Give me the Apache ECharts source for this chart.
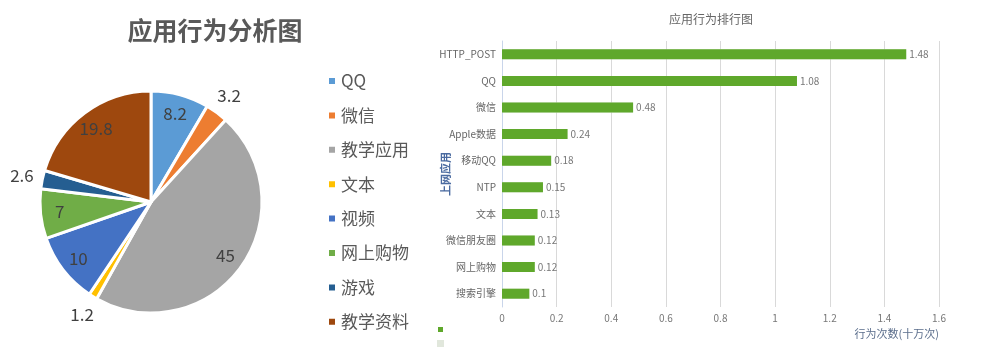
<!DOCTYPE html>
<html><head><meta charset="utf-8">
<script src="https://cdn.jsdelivr.net/npm/echarts@6/dist/echarts.min.js"></script>
<style>html,body{margin:0;padding:0;background:#fff}#c{width:982px;height:361px}</style>
</head><body><div id="c"></div>
<script>
var pieNames = ['QQ','微信','教学应用','文本','视频','网上购物','游戏','教学资料'];
var pieValues = [8.2,3.2,45,1.2,10,7,2.6,19.8];
var pieInsideLabel = [true,false,true,false,true,true,false,true];
var barCats = ['HTTP_POST','QQ','微信','Apple数据','移动QQ','NTP','文本','微信朋友圈','网上购物','搜索引擎'];
var barValues = [1.48,1.08,0.48,0.24,0.18,0.15,0.13,0.12,0.12,0.1];
var xTicks = [0,0.2,0.4,0.6,0.8,1,1.2,1.4,1.6];

var pieColors = ['#5B9BD5','#ED7D31','#A5A5A5','#FFC000','#4472C4','#70AD47','#255E91','#9E480E'];
var FONT = '"Noto Sans CJK SC","Microsoft YaHei",sans-serif';
var C = [151, 202], R = 111;

function pieData(mode){
  return pieNames.map(function(n,i){
    var d = {name:n, value:pieValues[i], itemStyle:{color:pieColors[i]}};
    if(mode==='in') d.label = {show: pieInsideLabel[i]};
    if(mode==='out') d.label = {show: !pieInsideLabel[i]};
    if(mode!=='main') d.itemStyle = {color:'rgba(0,0,0,0)'};
    return d;
  });
}
var labelStyle = {position:'inside', formatter:'{c}', color:'#404040', fontSize:17, fontFamily:FONT};

var chart = echarts.init(document.getElementById('c'));
chart.setOption({
  animation:false,
  textStyle:{fontFamily:FONT},
  title:[
    {text:'应用行为分析图', left:210, top:13, textAlign:'center',
     textStyle:{fontSize:25, fontWeight:'bold', color:'#595959', fontFamily:FONT}},
    {text:'应用行为排行图', left:706, top:8, textAlign:'center',
     textStyle:{fontSize:12, fontWeight:'normal', color:'#666', fontFamily:FONT}}
  ],
  legend:[
    {data:pieNames, orient:'vertical', left:322, top:66, icon:'rect', itemWidth:8, itemHeight:8,
     itemGap:14.4, textStyle:{fontSize:17, color:'#595959', lineHeight:20, fontFamily:FONT}},
    {data:['行为次数','基准'], orient:'vertical', left:432, top:322, icon:'rect', itemWidth:5, itemHeight:5,
     itemGap:8, formatter:function(){return '';}, selectedMode:false}
  ],
  grid:{left:502, right:43, top:41, bottom:54},
  xAxis:{type:'value', min:xTicks[0], max:xTicks[xTicks.length-1], interval:0.2,
    name:'行为次数(十万次)', nameLocation:'end', nameGap:0,
    nameTextStyle:{align:'right', verticalAlign:'top', padding:[21,0,0,0], fontSize:11, color:'#5b6e8c'},
    axisLine:{show:false}, axisTick:{show:false},
    axisLabel:{fontSize:10, color:'#777', margin:6},
    splitLine:{lineStyle:{color:'#d9d9d9'}}},
  yAxis:{type:'category', data:barCats, inverse:true,
    name:'上网应用', nameLocation:'middle', nameGap:51, nameRotate:90, nameMoveOverlap:false,
    nameTextStyle:{fontSize:11, fontWeight:'bold', color:'#4a6aa0'},
    axisLine:{lineStyle:{color:'#c9d5ea'}}, axisTick:{length:3, lineStyle:{color:'#c9d5ea'}},
    axisLabel:{fontSize:10, color:'#666', margin:6}},
  series:[
    {type:'pie', center:C, radius:[0,R], startAngle:90, clockwise:true, avoidLabelOverlap:false,
     itemStyle:{borderColor:'#fff', borderWidth:3}, label:{show:false}, labelLine:{show:false},
     data:pieData('main')},
    {type:'pie', center:C, radius:[0,R*1.6], startAngle:90, silent:true, avoidLabelOverlap:false,
     label:labelStyle, labelLine:{show:false}, data:pieData('in'), legendHoverLink:false},
    {type:'pie', center:C, radius:[0,R*2.32], startAngle:90, silent:true, avoidLabelOverlap:false,
     label:labelStyle, labelLine:{show:false}, data:pieData('out'), legendHoverLink:false},
    {name:'基准', type:'bar', data:barValues, barWidth:10, barGap:'-100%', z:1,
     itemStyle:{color:'#e1e7dc', borderColor:'#e1e7dc', borderWidth:4}},
    {name:'行为次数', type:'bar', data:barValues, barWidth:10, barGap:'-100%', z:2,
     itemStyle:{color:'#5fa82b'},
     label:{show:true, position:'right', distance:3, fontSize:10, color:'#777'}}
  ]
});
</script></body></html>
